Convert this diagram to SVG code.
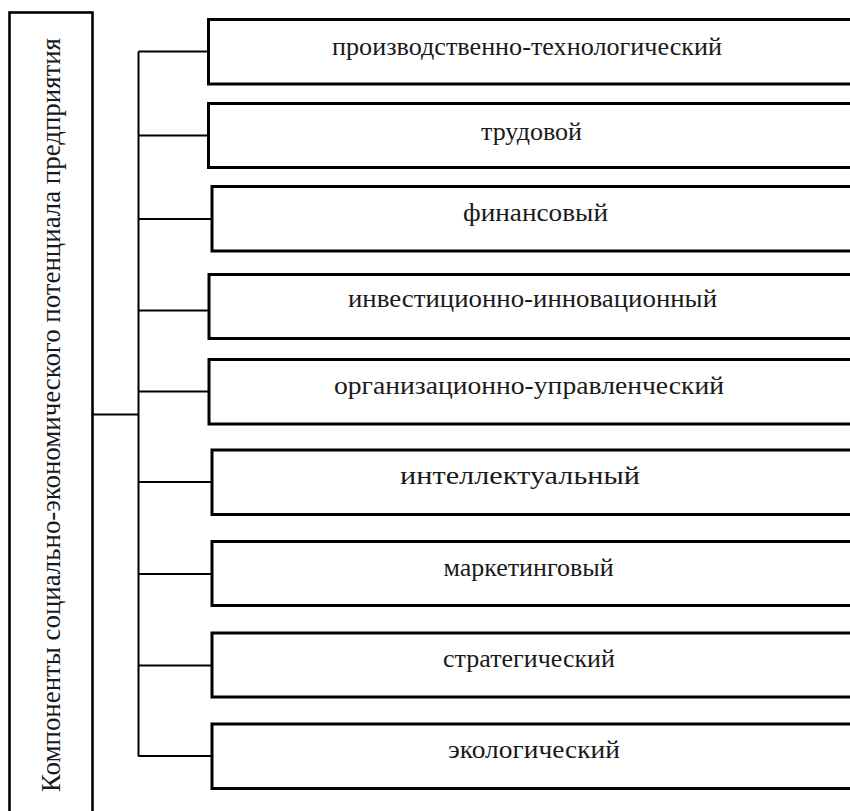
<svg xmlns="http://www.w3.org/2000/svg" width="850" height="811" viewBox="0 0 850 811">
<style>
  .box { fill: #ffffff; stroke: #000000; stroke-width: 3; }
  .root { fill: #ffffff; stroke: #000000; stroke-width: 2.6; }
  .lbl { font-family: 'Liberation Serif', 'DejaVu Serif', serif; font-size: 26px; fill: #1a1a1a; text-anchor: middle; }
  .rootlbl { font-family: 'Liberation Serif', 'DejaVu Serif', serif; font-size: 28px; fill: #1a1a1a; text-anchor: middle; }
  .conn { fill: none; stroke: #000000; stroke-width: 2; }
</style>
<rect width="850" height="811" fill="#ffffff"/>
<g id="root">
  <rect class="root" x="9.5" y="12.5" width="83" height="805"/>
  <text class="rootlbl" transform="translate(60,415) rotate(-90)" x="0" y="0" textLength="754" lengthAdjust="spacingAndGlyphs">Компоненты социально-экономического потенциала предприятия</text>
</g>
<g id="connectors">
  <line class="conn" x1="92" y1="414.5" x2="138.5" y2="414.5"/>
  <line class="conn" x1="138.5" y1="51.5" x2="138.5" y2="756.5"/>
  <line class="conn" x1="138.5" y1="51.5" x2="208.5" y2="51.5"/>
  <line class="conn" x1="138.5" y1="135.5" x2="208.5" y2="135.5"/>
  <line class="conn" x1="138.5" y1="219" x2="212" y2="219"/>
  <line class="conn" x1="138.5" y1="310.5" x2="209" y2="310.5"/>
  <line class="conn" x1="138.5" y1="391.5" x2="209" y2="391.5"/>
  <line class="conn" x1="138.5" y1="482" x2="212" y2="482"/>
  <line class="conn" x1="138.5" y1="574" x2="212" y2="574"/>
  <line class="conn" x1="138.5" y1="665.5" x2="212" y2="665.5"/>
  <line class="conn" x1="138.5" y1="756" x2="212" y2="756"/>
</g>
<g id="n1">
  <rect class="box" x="208.5" y="19.5" width="650" height="64.5"/>
  <text class="lbl" x="527" y="55" textLength="390" lengthAdjust="spacingAndGlyphs">производственно-технологический</text>
</g>
<g id="n2">
  <rect class="box" x="208.5" y="103.5" width="650" height="64"/>
  <text class="lbl" x="531.5" y="139.5">трудовой</text>
</g>
<g id="n3">
  <rect class="box" x="212" y="186.5" width="650" height="64.5"/>
  <text class="lbl" x="535.5" y="221" textLength="145" lengthAdjust="spacingAndGlyphs">финансовый</text>
</g>
<g id="n4">
  <rect class="box" x="209" y="274.5" width="650" height="64"/>
  <text class="lbl" x="532.5" y="307" textLength="369" lengthAdjust="spacingAndGlyphs">инвестиционно-инновационный</text>
</g>
<g id="n5">
  <rect class="box" x="209" y="359.5" width="650" height="64.5"/>
  <text class="lbl" x="529" y="394" textLength="390" lengthAdjust="spacingAndGlyphs">организационно-управленческий</text>
</g>
<g id="n6">
  <rect class="box" x="212" y="450" width="650" height="64.5"/>
  <text class="lbl" x="520" y="484" textLength="240" lengthAdjust="spacingAndGlyphs">интеллектуальный</text>
</g>
<g id="n7">
  <rect class="box" x="212" y="541.5" width="650" height="64"/>
  <text class="lbl" x="528.5" y="576">маркетинговый</text>
</g>
<g id="n8">
  <rect class="box" x="212" y="633" width="650" height="64"/>
  <text class="lbl" x="529" y="667">стратегический</text>
</g>
<g id="n9">
  <rect class="box" x="212" y="724" width="650" height="64.5"/>
  <text class="lbl" x="534" y="758" textLength="172" lengthAdjust="spacingAndGlyphs">экологический</text>
</g>
</svg>
